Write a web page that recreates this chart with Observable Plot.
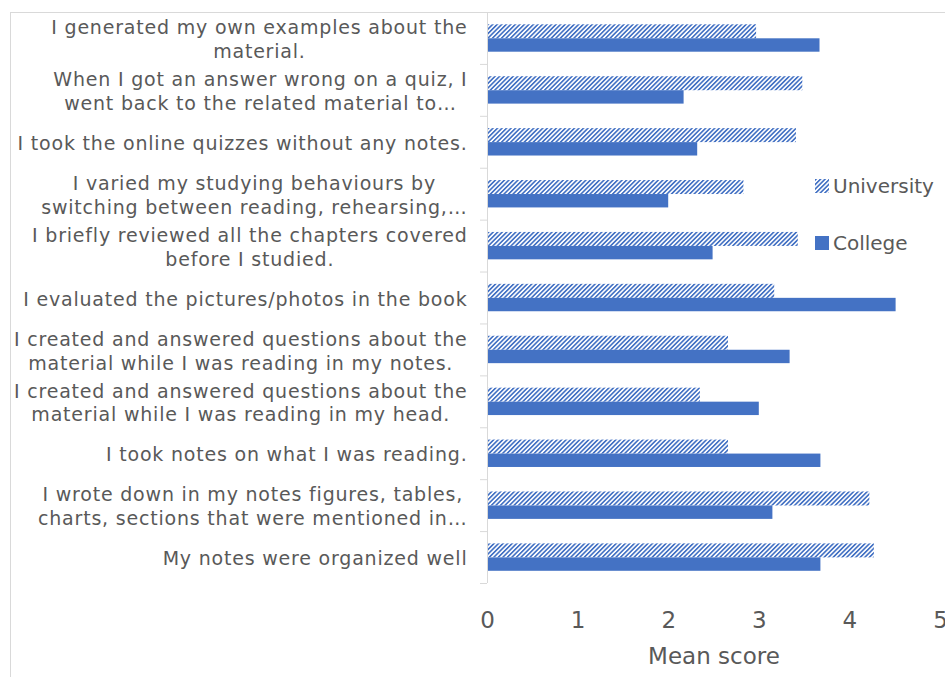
<!DOCTYPE html>
<html>
<head>
<meta charset="utf-8">
<script src="https://cdn.jsdelivr.net/npm/d3@7"></script>
<script src="https://cdn.jsdelivr.net/npm/@observablehq/plot@0.6"></script>
<style>
  body { margin: 0; background: #fff; }
  #wrap { position: relative; width: 945px; height: 677px; overflow: hidden; font-family: "DejaVu Sans", Verdana, sans-serif; }
  #border { position: absolute; left: 10px; top: 12px; width: 960px; height: 700px; border: 1px solid #d9d9d9; box-sizing: border-box; }
  #chart { position: absolute; left: 0; top: 0; }
  #chart svg g[aria-label="y-axis tick label"] { letter-spacing: 0.8px; }
  #legend { position: absolute; left: 815px; top: 174px; color: #595959; font-size: 20px; line-height: 24px; }
  #legend .item { display: flex; align-items: center; height: 24px; }
  #legend .item + .item { margin-top: 33px; }
  #legend svg { margin-right: 4px; }
</style>
</head>
<body>
<div id="wrap">
  <div id="border"></div>
  <div id="chart"></div>
  <div id="legend"></div>
</div>
<script>
// ---- data ----
const categories = [
  "I generated my own examples about the\nmaterial.",
  "When I got an answer wrong on a quiz, I\nwent back to the related material to…",
  "I took the online quizzes without any notes.",
  "I varied my studying behaviours by\nswitching between reading, rehearsing,…",
  "I briefly reviewed all the chapters covered\nbefore I studied.",
  "I evaluated the pictures/photos in the book",
  "I created and answered questions about the\nmaterial while I was reading in my notes.",
  "I created and answered questions about the\nmaterial while I was reading in my head.",
  "I took notes on what I was reading.",
  "I wrote down in my notes figures, tables,\ncharts, sections that were mentioned in…",
  "My notes were organized well"
];
const seriesNames = ["University", "College"];
const university = [2.97, 3.48, 3.41, 2.83, 3.43, 3.17, 2.66, 2.35, 2.66, 4.22, 4.27];
const college    = [3.67, 2.17, 2.32, 2.00, 2.49, 4.51, 3.34, 3.00, 3.68, 3.15, 3.68];
const xTicks = [0, 1, 2, 3, 4, 5];
const xLabel = "Mean score";

const uniRows = categories.map((c, i) => ({category: c, series: seriesNames[0], value: university[i]}));
const colRows = categories.map((c, i) => ({category: c, series: seriesNames[1], value: college[i]}));

const blue = "#4472C4";
const gray = "#595959";
const lineGray = "#d9d9d9";

const H = 677, MT = 12, MB = 94;
const bandwidth = (H - MT - MB) / categories.length;

function hatchDefs() {
  const defs = d3.create("svg:defs");
  const p = defs.append("pattern")
    .attr("id", "hatch")
    .attr("patternUnits", "userSpaceOnUse")
    .attr("width", 3.2).attr("height", 3.2)
    .attr("patternTransform", "rotate(45)");
  p.append("rect").attr("width", 3.2).attr("height", 3.2).attr("fill", "#fff");
  p.append("line").attr("x1", 0.8).attr("y1", 0).attr("x2", 0.8).attr("y2", 3.2)
    .attr("stroke", blue).attr("stroke-width", 1.7);
  return defs.node();
}

const chart = Plot.plot({
  width: 945,
  height: H,
  marginLeft: 487,
  marginRight: 5,
  marginTop: MT,
  marginBottom: MB,
  x: {domain: [0, 5]},
  y: {domain: categories, padding: 0, round: false},
  style: {fontFamily: "'DejaVu Sans', Verdana, sans-serif", color: gray, background: "transparent", overflow: "visible"},
  marks: [
    hatchDefs,
    Plot.barX(uniRows, {x: "value", y: "category", fill: "url(#hatch)", insetTop: 12.3, insetBottom: bandwidth - 26.3}),
    Plot.barX(colRows, {x: "value", y: "category", fill: blue, insetTop: 26.3, insetBottom: bandwidth - 39.7}),
    Plot.ruleX([0], {stroke: lineGray, strokeWidth: 1}),
    Plot.axisY(categories, {tickSize: 7, tickFormat: () => "", label: null, dy: -bandwidth / 2, stroke: lineGray, strokeOpacity: 1}),
    Plot.axisY([categories[categories.length - 1]], {tickSize: 7, tickFormat: () => "", label: null, dy: bandwidth / 2, stroke: lineGray, strokeOpacity: 1}),
    Plot.axisY({tickSize: 0, tickPadding: 20, fontSize: 19, lineWidth: Infinity, lineHeight: 1.26, fill: gray, label: null}),
    Plot.axisX(xTicks, {tickSize: 0, tickPadding: 28, fontSize: 23, fill: gray,
      label: xLabel, labelAnchor: "center", labelArrow: "none", labelOffset: 80})
  ]
});
document.getElementById("chart").appendChild(chart);

// center the lines of each multi-line category label within its block (right-aligned block)
d3.select(chart).selectAll('g[aria-label="y-axis tick label"] text').each(function() {
  const tspans = this.querySelectorAll("tspan");
  if (tspans.length < 2) return;
  let w = 0;
  tspans.forEach(t => { w = Math.max(w, t.getComputedTextLength()); });
  this.setAttribute("text-anchor", "middle");
  tspans.forEach(t => t.setAttribute("x", -w / 2));
});

// legend
const legend = d3.select("#legend");
seriesNames.forEach((name, i) => {
  const item = legend.append("div").attr("class", "item");
  const s = item.append("svg").attr("width", 14).attr("height", 14);
  s.append("rect").attr("width", 14).attr("height", 14).attr("fill", i === 0 ? "url(#hatch)" : blue);
  item.append("span").text(name);
});
</script>
</body>
</html>
